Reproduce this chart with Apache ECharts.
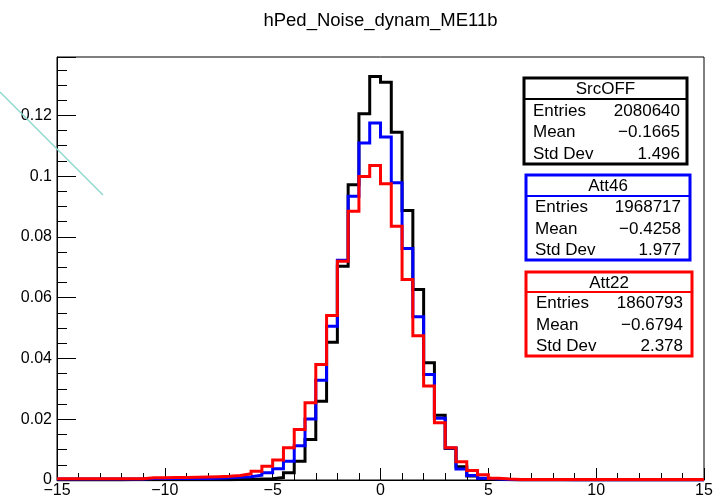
<!DOCTYPE html>
<html>
<head>
<meta charset="utf-8">
<script src="https://cdn.jsdelivr.net/npm/echarts@6/dist/echarts.min.js"></script>
<style>html,body{margin:0;padding:0;background:#fff}#c{width:726px;height:502px}</style>
</head>
<body>
<div id="c"></div>
<script>
const titleText = "hPed_Noise_dynam_ME11b";
const binLow = -15, binWidth = 0.5, nBins = 60;
const xTicks = [-15, -10, -5, 0, 5, 10, 15];
const yTicks = [0, 0.02, 0.04, 0.06, 0.08, 0.1, 0.12];
const yMax = 0.1392;

const srcOFF = [0,0,0,0,0,0,0.0001,0.0001,0.0001,0.0001,
  0.0001,0.0001,0.0001,0.0001,0.0001,0.0001,0.0002,0.0002,0.0003,0.0004,
  0.0008,0.0024,0.0062,0.0133,0.0259,0.0453,0.0703,0.0972,0.1205,0.1328,
  0.1309,0.1144,0.0887,0.0627,0.0386,0.0213,0.0104,0.0044,0.0013,0.0005,
  0.0002,0.0001,0,0,0,0,0,0,0,0,
  0,0,0,0,0,0,0,0,0,0];
const att46 = [0.0003,0.0003,0.0003,0.0003,0.0003,0.0003,0.0003,0.0003,0.0005,0.0005,
  0.0005,0.0005,0.0005,0.0005,0.0006,0.0007,0.0009,0.0011,0.0016,0.0024,
  0.0037,0.0062,0.0113,0.0201,0.0328,0.0506,0.0723,0.0934,0.1109,0.1175,
  0.1129,0.0978,0.0762,0.0537,0.0347,0.0203,0.0105,0.0036,0.0015,0.0006,
  0.0003,0.0002,0.0001,0.0001,0.0001,0.0001,0.0001,0,0,0,
  0,0,0,0,0,0,0,0,0,0];
const att22 = [0.0004,0.0004,0.0004,0.0004,0.0004,0.0004,0.0004,0.0004,0.0007,0.0007,
  0.0008,0.0008,0.0009,0.0010,0.0011,0.0012,0.0015,0.0021,0.0029,0.0045,
  0.0066,0.0106,0.0166,0.0254,0.0380,0.0541,0.0720,0.0884,0.0999,0.1035,
  0.0975,0.0835,0.0660,0.0475,0.0309,0.0188,0.0106,0.0060,0.0031,0.0017,
  0.0006,0.0003,0.0002,0.0002,0.0002,0.0002,0.0002,0.0002,0.0002,0.0002,
  0.0002,0.0002,0.0002,0.0002,0.0002,0.0002,0.0002,0.0002,0.0002,0.0002];

const statNames = ["SrcOFF", "Att46", "Att22"];
const statColors = ["#000000", "#0000ff", "#ff0000"];
const statEntries = ["2080640", "1968717", "1860793"];
const statMeans = ["\u22120.1665", "\u22120.4258", "\u22120.6794"];
const statStd = ["1.496", "1.977", "2.378"];
const seriesValues = [srcOFF, att46, att22];

function toSteps(vals) {
  const pts = vals.map((v, i) => [binLow + i * binWidth, v]);
  pts.push([binLow + nBins * binWidth, vals[vals.length - 1]]);
  return pts;
}

const FONT = "'Liberation Sans', Arial, Helvetica, sans-serif";
const fmt = v => String(v).replace('-', '\u2212');

const boxes = [
  {x: 524, y: 78, w: 163, h: 86, hh: 21, lx: 533, rx: 680},
  {x: 526, y: 175, w: 164, h: 85, hh: 21, lx: 535, rx: 681},
  {x: 526, y: 272, w: 166, h: 84, hh: 20, lx: 536, rx: 683}
];

const graphics = [];
graphics.push({type: 'text', x: 380.5, y: 21, z: 10,
  style: {text: titleText, font: '18.5px ' + FONT, fill: '#000', textAlign: 'center', textVerticalAlign: 'middle'}});
graphics.push({type: 'line', z: 10,
  shape: {x1: 0, y1: 92, x2: 103, y2: 195},
  style: {stroke: '#8fd5d0', lineWidth: 1.5}});
boxes.forEach((b, k) => {
  const col = statColors[k];
  graphics.push({type: 'rect', z: 20, shape: {x: b.x, y: b.y, width: b.w, height: b.h},
    style: {fill: '#fff', stroke: col, lineWidth: 3}});
  graphics.push({type: 'line', z: 21, shape: {x1: b.x, y1: b.y + b.hh, x2: b.x + b.w, y2: b.y + b.hh},
    style: {stroke: col, lineWidth: 2}});
  graphics.push({type: 'text', z: 22, x: b.x + b.w / 2, y: b.y + b.hh / 2 + 1,
    style: {text: statNames[k], font: '17px ' + FONT, fill: '#000', textAlign: 'center', textVerticalAlign: 'middle'}});
  const rowH = (b.h - b.hh) / 3;
  const labels = ['Entries', 'Mean', 'Std Dev'];
  const vals = [statEntries[k], statMeans[k], statStd[k]];
  for (let r = 0; r < 3; r++) {
    const cy = b.y + b.hh + rowH * (r + 0.5) + 1;
    graphics.push({type: 'text', z: 22, x: b.lx, y: cy,
      style: {text: labels[r], font: '17px ' + FONT, fill: '#000', textAlign: 'left', textVerticalAlign: 'middle'}});
    graphics.push({type: 'text', z: 22, x: b.rx, y: cy,
      style: {text: vals[r], font: '17px ' + FONT, fill: '#000', textAlign: 'right', textVerticalAlign: 'middle'}});
  }
});

const chart = echarts.init(document.getElementById('c'), null, {renderer: 'canvas'});
chart.setOption({
  animation: false,
  backgroundColor: '#fff',
  grid: {left: 57, right: 22, top: 57, bottom: 22, show: true, borderColor: '#000', borderWidth: 1, containLabel: false},
  xAxis: {
    type: 'value', min: xTicks[0], max: xTicks[xTicks.length - 1], interval: 5,
    axisLine: {show: true, onZero: false, lineStyle: {color: '#000', width: 1}},
    axisTick: {show: true, inside: true, length: 12, lineStyle: {color: '#000'}},
    minorTick: {show: true, splitNumber: 5, length: 7, lineStyle: {color: '#000'}},
    splitLine: {show: false},
    axisLabel: {color: '#000', fontSize: 16, fontFamily: FONT, margin: 3, formatter: fmt}
  },
  yAxis: {
    type: 'value', min: yTicks[0], max: yMax, interval: 0.02,
    axisLine: {show: true, onZero: false, lineStyle: {color: '#000', width: 1}},
    axisTick: {show: true, inside: true, length: 19, lineStyle: {color: '#000'}},
    minorTick: {show: true, splitNumber: 4, length: 10, lineStyle: {color: '#000'}},
    splitLine: {show: false},
    axisLabel: {color: '#000', fontSize: 16, fontFamily: FONT, margin: 5, showMaxLabel: false,
      formatter: v => (yTicks.some(t => Math.abs(t - v) < 1e-9) ? String(+v.toFixed(2)) : '')}
  },
  series: seriesValues.map((vals, k) => ({
    type: 'line', step: 'end', symbol: 'none', data: toSteps(vals), z: 2 + k,
    lineStyle: {color: statColors[k], width: 3, join: 'miter', cap: 'butt'},
    itemStyle: {color: statColors[k]}
  })),
  graphic: graphics
});
</script>
</body>
</html>
